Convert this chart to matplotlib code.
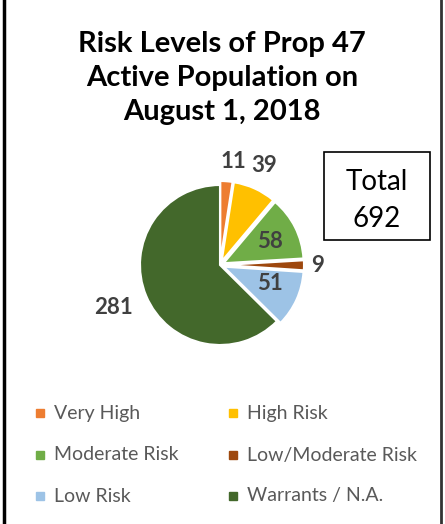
import matplotlib.pyplot as plt
from matplotlib.patches import Rectangle
from matplotlib.lines import Line2D

categories = ['Very High', 'High Risk', 'Moderate Risk', 'Low/Moderate Risk', 'Low Risk', 'Warrants / N.A.']
counts = [11, 39, 58, 9, 51, 281]
colors = ['#ED7D31', '#FFC000', '#70AD47', '#9E480E', '#9DC3E6', '#43682B']
total_label = 692

plt.rcParams['font.family'] = ['Lato', 'DejaVu Sans']

fig = plt.figure(figsize=(4.45, 5.24), dpi=100)
W, H = 445.0, 524.0

# side border lines
fig.add_artist(Line2D([4 / W, 4 / W], [0, 1], color='black', lw=2.5))
fig.add_artist(Line2D([441 / W, 441 / W], [0, 1], color='#333333', lw=2))

fig.text(222 / W, 1 - 78 / H, 'Risk Levels of Prop 47\nActive Population on\nAugust 1, 2018',
         ha='center', va='center', fontsize=21, fontweight='bold', linespacing=1.38)

# pie axes: center (220, 265), radius ~84 px
r = 84
ax = fig.add_axes([(220 - r) / W, 1 - (265 + r) / H, 2 * r / W, 2 * r / H])
explode = [0.05, 0.05, 0.05, 0.05, 0.05, 0.0]
wedges, _ = ax.pie(counts, colors=colors, startangle=90, counterclock=False, explode=explode,
                   wedgeprops=dict(edgecolor='white', linewidth=1.5))
ax.set_xlim(-1.05, 1.05)
ax.set_ylim(-1.05, 1.05)
ax.set_aspect('equal')

# data labels (pixel positions of text centers)
label_pos = [(233, 162), (264, 166), (270, 241), (318, 265), (270, 284), (114, 307)]
for v, (x, y) in zip(counts, label_pos):
    fig.text(x / W, 1 - y / H, str(v), ha='center', va='center', fontsize=16,
             fontweight='bold', color='#404040')

# total box
fig.add_artist(Rectangle((324 / W, 1 - 240 / H), 106 / W, 88 / H, fill=False,
                         edgecolor='black', lw=1.2, transform=fig.transFigure))
fig.text(377 / W, 1 - 182 / H, 'Total', ha='center', va='center', fontsize=20, color='black')
fig.text(377 / W, 1 - 219 / H, str(total_label), ha='center', va='center', fontsize=20, color='black')

# legend
leg_x = [40, 233]
leg_y = [413, 455, 496]
for i, (name, c) in enumerate(zip(categories, colors)):
    x = leg_x[i % 2]
    y = leg_y[i // 2]
    fig.add_artist(Rectangle(((x - 4) / W, 1 - (y + 4) / H), 8 / W, 8 / H, color=c,
                             transform=fig.transFigure))
    fig.text((x + 14) / W, 1 - y / H, name, ha='left', va='center', fontsize=14, color='#595959')

fig.savefig('out.png', dpi=100)
